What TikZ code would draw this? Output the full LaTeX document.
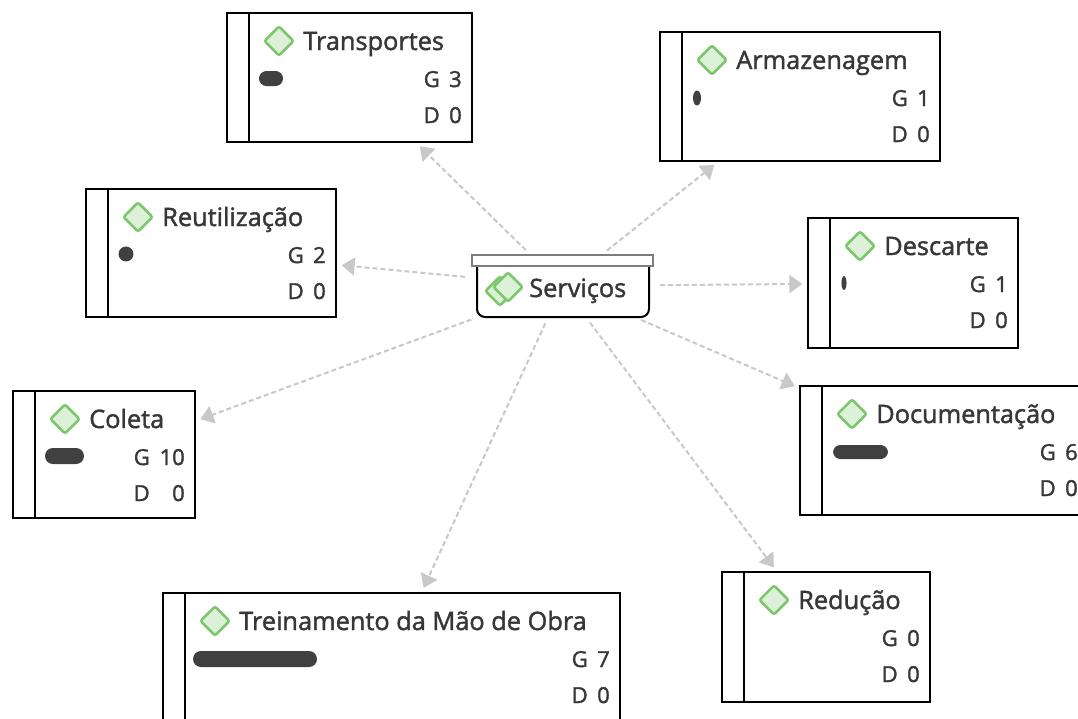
\documentclass[tikz,border=0pt]{standalone}
\usepackage{fontspec}
\setmainfont{Open Sans}
\newfontface\medfont{Open Sans}[RawFeature={embolden=1.6}]
\usetikzlibrary{shapes.geometric,arrows.meta,fit}
\definecolor{txt}{RGB}{55,55,55}
\definecolor{barc}{RGB}{64,64,64}
\definecolor{dgreen}{RGB}{125,200,110}
\definecolor{lgreen}{RGB}{221,240,216}
\definecolor{connc}{RGB}{200,200,200}
\definecolor{lidgray}{RGB}{125,125,125}
\tikzset{
 cbox/.style={draw=black, line width=1.5pt, inner sep=0pt},
 divline/.style={draw=black, line width=1.5pt},
 dia/.style={diamond, aspect=1, draw=dgreen, fill=lgreen, line width=1.9pt, minimum size=22.5pt, inner sep=0pt, rounded corners=1.5pt},
 ttl/.style={font=\medfont\fontsize{19}{21}\selectfont, text=txt, inner sep=0pt, anchor=base west},
 val/.style={font=\medfont\fontsize{16.5}{18}\selectfont, text=txt, inner sep=0pt, anchor=base east},
 barshape/.style={fill=barc},
 link/.style={draw=connc, line width=1.5pt, dash pattern=on 3.75pt off 2.25pt,
   -{Triangle[length=9.75pt,width=13.5pt,fill=connc]}, shorten <=5pt, shorten >=3.5pt},
}
\newcommand\catbox[9]{%
  \node[cbox, fit={(#2,#3) (#4,#5)}] (#1) {};
  \draw[divline] (#2+21.5,#3) -- (#2+21.5,#5);
  \node[dia] (#1i) at (#2+52,#3+28) {};
  \node[ttl] (#1t) at (#2+76,#3+37) {#6};
  \node[val] (#1gv) at (#4-10,#3+74) {#7};
  \node[val] (#1gl) at (#4-#9,#3+74) {G};
  \node[val] (#1dv) at (#4-10,#3+110) {#8};
  \node[val] (#1dl) at (#4-#9,#3+110) {D};
}
\begin{document}
\begin{tikzpicture}[x=0.75pt,y=-0.75pt]
\useasboundingbox (0,0) rectangle (1078,718);
\clip (0,0) rectangle (1078,718);
\fill[white] (0,0) rectangle (1078,718);

% boxes
\catbox{transp}{227}{13}{472}{142}{Transportes}{3}{0}{32}
\catbox{armaz}{660}{32}{940}{161}{Armazenagem}{1}{0}{32}
\catbox{reut}{86}{189}{336}{317}{Reutilização}{2}{0}{32}
\catbox{desc}{808}{218}{1018}{348}{Descarte}{1}{0}{32}
\catbox{colet}{13}{391}{195}{518}{Coleta}{10}{0}{45}
\catbox{docum}{800}{386}{1088}{515}{Documentação}{6}{0}{32}
\catbox{reduc}{722}{572}{930}{702}{Redução}{0}{0}{32}
\catbox{trein}{163}{593}{620}{723}{Treinamento da Mão de Obra}{7}{0}{32}

% bars
\fill[barshape, rounded corners=5.6pt] (259,71) rectangle (283,86);
\fill[barshape] (697,98) ellipse [x radius=3pt, y radius=5.6pt];
\fill[barshape] (126,254) circle [radius=5.6pt];
\fill[barshape] (844,283) ellipse [x radius=1.9pt, y radius=5.2pt];
\fill[barshape, rounded corners=6pt] (45,448) rectangle (84,464);
\fill[barshape, rounded corners=5.6pt] (833,445) rectangle (888,459);
\fill[barshape, rounded corners=6pt] (193,651) rectangle (317,667);

% central node
\node[inner sep=0pt, fit={(472,255) (653,317)}] (srv) {};
\draw[black, line width=1.5pt, rounded corners=6pt] (477,266) -- (477,317) -- (649,317) -- (649,266);
\draw[lidgray, fill=white, line width=1.8pt] (472,255) rectangle (653,266);
\node[dia] (srvi2) at (500,291) {};
\node[dia] (srvi1) at (508,287) {};
\node[ttl] (srvt) at (529,297) {Serviços};

% connectors
\draw[link] (srv) -- (transp);
\draw[link] (srv) -- (armaz);
\draw[link] (srv) -- (reut);
\draw[link] (srv) -- (desc);
\draw[link] (srv) -- (colet);
\draw[link] (srv) -- (docum);
\draw[link] (srv) -- (trein);
\draw[link] (srv) -- (reduc);
\end{tikzpicture}
\end{document}
